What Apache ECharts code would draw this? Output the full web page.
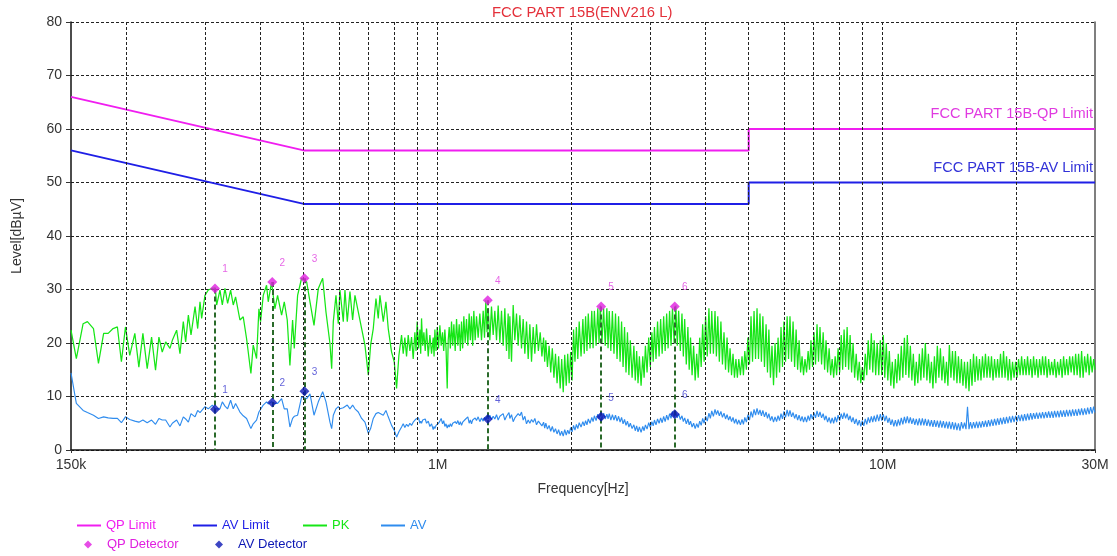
<!DOCTYPE html>
<html><head><meta charset="utf-8">
<script src="https://cdn.jsdelivr.net/npm/echarts@6/dist/echarts.min.js"></script>
<style>html,body{margin:0;padding:0;background:#fff}#c{width:1117px;height:556px}</style>
</head><body><div id="c"></div>
<script>
// ---- data (frequencies in kHz, levels in dBµV) ----
const titleText = 'FCC PART 15B(ENV216 L)';
const qpLimitKHz = [150, 500, 5000, 5000, 30000];
const qpLimitLevel = [66, 56, 56, 60, 60];
const avLimitKHz = [150, 500, 5000, 5000, 30000];
const avLimitLevel = [56, 46, 46, 50, 50];
const qpLimitText = 'FCC PART 15B-QP Limit';
const avLimitText = 'FCC PART 15B-AV Limit';

const detFreqKHz = [316, 425, 502, 1296, 2330, 3410];
const qpDetLevel = [30.2, 31.4, 32.1, 28.0, 26.8, 26.8];
const avDetLevel = [7.6, 8.9, 11.0, 5.8, 6.2, 6.7];
const detLabels = ['1', '2', '3', '4', '5', '6'];

const gridKHz = [200, 300, 400, 500, 600, 700, 800, 900, 1000, 2000, 3000, 4000, 5000, 6000, 7000, 8000, 9000, 10000, 20000];
const tickKHz = [150, 200, 300, 400, 500, 600, 700, 800, 900, 1000, 2000, 3000, 4000, 5000, 6000, 7000, 8000, 9000, 10000, 20000, 30000];

const freqKHz = [
  // 150k - 500k
  150,154.2,159.7,163.3,168.5,172.9,177.6,181.8,186.5,190.7,
  194.7,198.8,203.3,208.7,213.1,217.6,222.5,227.6,232.3,236.4,
  240.5,244.8,250.3,253.4,259.1,263.6,268.2,271.5,275.3,279.1,
  285.0,288.9,292.4,294.9,300.0,305.2,311.6,316.5,318.7,324.2,
  328.2,332.7,337.3,342.6,347.3,351.5,359.5,365.7,372.1,380.5,
  385.1,391.8,396.6,400.0,405.6,412.6,416.2,423.4,430.8,436.8,
  446.0,452.2,459.2,465.6,472.1,476.2,484.5,494.6,
  // 500k - 820k
  507.8,516.6,527.4,539.3,551.6,561.1,572.8,577.9,582.8,590.9,
  598.0,603.2,613.7,619.0,626.5,635.2,644.1,651.9,663.2,674.8,
  686.5,698.5,706.9,716.7,726.7,735.4,741.8,754.7,765.2,774.4,
  787.9,798.8,808.5,818.3,
  // 830k - 1.7M
  829.7,836.8,843.9,851.3,858.7,866.1,873.6,881.2,888.8,894.2,
  899.6,905.8,912.1,916.0,920.0,925.6,931.2,937.7,944.2,952.4,
  960.6,968.9,977.3,981.5,985.8,991.7,997.7,1004.6,1011.5,1018.5,
  1025.6,1031.8,1038.0,1044.3,1050.7,1056.1,1061.6,1068.0,1074.4,1081.0,
  1087.5,1095.0,1102.6,1110.2,1117.9,1124.6,1131.4,1138.2,1145.1,1153.0,
  1160.9,1169.0,1177.1,1184.2,1191.4,1198.6,1205.8,1214.2,1222.6,1233.2,
  1243.9,1254.7,1265.6,1274.4,1283.2,1291.0,1298.7,1310.0,1321.3,1332.8,
  1344.3,1356.0,1367.7,1379.6,1391.5,1403.6,1415.7,1428.0,1440.4,1446.6,
  1452.8,1465.4,1478.1,1490.9,1503.7,1516.8,1529.9,1543.2,1556.6,1570.1,
  1583.7,1597.5,1611.3,1625.3,1639.3,1653.5,1667.8,1684.0,
  // 1.7M - 30M
  1700,1715,1730,1740,1750,1765,1780,1795,1810,1825,1840,1855,1870,1885,1900,1915,1930,1945,1960,1975,
  1990,2005,2020,2035,2050,2065,2080,2100,2120,2135,2150,2165,2180,2200,2220,2235,2250,2270,2290,2305,
  2320,2340,2360,2380,2400,2415,2430,2450,2470,2490,2510,2530,2550,2570,2590,2610,2630,2650,2670,2690,
  2710,2735,2760,2780,2800,2820,2840,2865,2890,2910,2930,2955,2980,3005,3030,3050,3070,3095,3120,3145,
  3170,3195,3220,3245,3270,3295,3320,3345,3370,3400,3430,3455,3480,3510,3540,3565,3590,3620,3650,3675,
  3700,3730,3760,3790,3820,3850,3880,3910,3940,3970,4000,4035,4070,4100,4130,4165,4200,4230,4260,4295,
  4330,4365,4400,4435,4470,4505,4540,4575,4610,4645,4680,4715,4750,4790,4830,4865,4900,4940,4980,5020,
  5060,5100,5140,5180,5220,5260,5300,5340,5380,5425,5470,5510,5550,5595,5640,5685,5730,5775,5820,5865,
  5910,5955,6000,6050,6100,6145,6190,6240,6290,6340,6390,6440,6490,6540,6590,6640,6690,6745,6800,6850,
  6900,6955,7010,7065,7120,7175,7230,7290,7350,7405,7460,7520,7580,7640,7700,7760,7820,7880,7940,8005,
  8070,8130,8190,8255,8320,8385,8450,8515,8580,8650,8720,8790,8860,8930,9000,9070,9140,9210,9280,9355,
  9430,9500,9570,9645,9720,9800,9880,9955,10030,10110,10190,10270,10350,10430,10510,10595,10680,10760,10840,10925,
  11010,11100,11190,11275,11360,11450,11540,11630,11720,11810,11900,11995,12090,12185,12280,12375,12470,12570,12670,12770,
  12870,12970,13070,13170,13270,13375,13480,13585,13690,13800,13910,14015,14120,14235,14350,14460,14570,14685,14800,14915,
  15030,15150,15270,15390,15510,15630,15750,15875,16000,16125,16250,16375,16500,16630,16760,16890,17020,17155,17290,17425,
  17560,17700,17840,17980,18120,18260,18400,18545,18690,18835,18980,19130,19280,19430,19580,19735,19890,20045,20200,20360,
  20520,20680,20840,21000,21160,21330,21500,21665,21830,22000,22170,22345,22520,22695,22870,23050,23230,23415,23600,23785,
  23970,24155,24340,24530,24720,24915,25110,25305,25500,25700,25900,26105,26310,26515,26720,26930,27140,27350,27560,27775,
  27990,28210,28430,28655,28880,29105,29330,29560,29790,30000
];

const pkLevel = [
  // 150k - 500k
  22.4,17.1,23.6,24.0,22.7,16.2,21.8,21.8,22.7,23.0,
  16.5,23.0,17.7,21.8,15.5,21.8,15.2,21.1,14.9,21.1,
  18.3,20.2,19.0,20.5,22.4,18.0,24.0,20.2,25.2,21.5,
  26.8,22.7,27.7,24.6,28.9,29.9,30.2,30.3,27.1,29.9,
  27.1,30.2,27.4,29.9,27.1,28.6,24.3,24.9,20.8,14.3,
  19.6,17.1,26.4,24.0,28.9,30.8,27.7,31.4,26.4,28.9,
  25.2,27.7,24.3,15.8,24.3,19.0,28.9,32.1,
  // 500k - 820k
  31.4,27.7,23.3,30.2,32.1,25.8,19.9,15.2,24.0,28.9,
  23.6,29.9,24.0,29.9,24.0,29.6,24.3,28.9,25.8,22.7,
  19.6,14.0,19.6,22.7,28.3,24.6,28.9,24.0,27.7,22.7,
  18.3,16.5,11.5,17.7,
  // 830k - 1.7M
  21.5,18.0,21.0,17.5,21.5,18.5,21.1,17.0,22.0,18.5,
  24.0,19.0,22.5,18.0,24.6,19.5,22.0,18.5,22.7,17.5,
  21.5,18.0,21.0,17.5,22.5,18.5,23.0,19.0,23.3,19.5,
  22.0,18.5,22.5,19.0,11.5,20.5,23.0,19.0,24.0,19.5,
  23.5,18.5,24.5,19.5,23.5,18.5,24.0,19.0,25.0,20.0,
  24.5,19.5,25.5,20.5,25.0,19.5,26.0,20.5,25.0,21.0,
  25.5,20.5,26.0,21.0,28.0,22.0,26.5,20.5,26.8,21.5,
  26.0,20.5,27.0,20.0,26.0,19.5,26.5,18.5,25.5,17.0,
  25.0,16.5,27.1,20.5,25.5,19.5,25.2,19.0,24.5,18.0,
  24.0,17.0,23.5,16.5,23.0,18.0,23.5,18.5,
  // 1.7M - 30M
  22.0,17.5,21.0,16.5,20.5,15.5,19.5,14.5,19.0,13.5,18.0,12.5,17.5,11.5,17.0,10.8,17.8,12.0,18.0,12.5,
  18.3,13.0,22.5,16.5,23.0,17.0,24.0,17.5,24.5,18.0,25.0,18.5,25.5,19.0,26.0,19.0,26.0,19.5,26.5,20.0,
  27.0,20.0,26.5,19.5,26.5,19.0,26.0,18.5,26.0,18.0,25.5,17.0,25.0,16.5,24.0,15.5,23.0,14.5,22.0,14.0,
  20.5,13.5,19.5,13.0,18.5,12.5,17.5,12.0,17.5,13.5,19.5,14.5,21.0,15.5,22.0,16.5,23.0,17.0,24.0,17.5,
  24.5,18.0,25.0,18.5,25.5,19.0,26.0,19.5,26.5,20.0,27.0,19.5,26.0,18.5,25.5,17.5,24.5,16.0,23.0,15.0,
  21.0,14.0,19.5,13.0,18.0,13.5,21.0,15.5,23.5,16.5,25.0,17.5,26.5,18.0,26.0,18.0,26.0,17.5,25.0,16.5,
  24.0,16.0,22.0,15.0,21.0,14.5,19.0,14.0,18.0,13.5,17.0,13.5,17.0,14.0,17.5,14.0,18.5,15.0,21.0,16.0,
  25.0,16.5,26.0,17.0,26.5,17.0,25.5,16.5,25.0,15.5,23.5,14.5,22.5,13.5,19.5,12.1,20.0,13.5,21.0,14.5,
  23.0,15.5,24.0,16.5,25.0,17.0,25.0,16.5,24.0,15.5,22.5,15.0,20.5,14.5,17.5,14.0,17.0,14.5,18.5,15.0,
  20.5,15.5,22.0,16.0,23.5,16.5,23.0,16.0,22.0,15.0,20.5,14.5,19.0,14.0,17.0,13.5,17.5,14.0,19.0,14.5,
  21.5,15.0,22.5,15.5,23.0,15.0,21.5,14.5,20.0,13.5,18.0,13.0,16.5,12.5,15.5,13.0,18.0,14.0,20.5,15.0,
  21.8,14.5,20.5,14.0,20.0,14.0,20.5,14.0,21.5,13.5,20.0,13.0,18.5,12.0,16.5,11.5,17.0,12.5,18.0,13.0,
  19.5,13.5,21.0,14.0,21.5,13.5,19.5,13.0,18.0,12.0,16.5,12.5,18.0,13.0,19.0,13.5,20.0,13.0,18.0,12.5,
  16.5,11.5,17.5,12.5,19.5,13.5,19.0,13.0,17.5,12.5,16.5,12.0,19.6,13.5,18.5,13.0,18.5,12.5,17.5,12.5,
  17.0,12.0,16.5,11.5,16.5,11.0,17.0,12.0,18.0,12.7,17.5,13.0,17.0,13.0,17.5,13.5,18.0,13.5,17.5,13.5,
  17.5,13.0,17.0,13.5,17.0,13.5,18.0,13.5,18.5,13.5,17.5,13.0,17.0,13.0,16.5,13.5,16.5,13.5,17.0,14.0,
  17.5,14.0,17.0,14.0,17.5,14.0,17.0,13.5,17.5,14.0,17.0,13.5,17.0,14.0,17.5,14.0,17.5,13.5,17.0,14.0,
  16.5,14.0,17.0,13.5,16.5,14.0,17.0,13.5,17.5,14.0,17.0,14.0,17.5,14.5,17.5,14.0,18.0,14.0,18.0,13.5,
  18.5,13.5,17.5,14.5,18.0,14.0,17.5,14.5,17.0,15.0
];

const avLevel = [
  // 150k - 500k
  14.4,8.7,7.4,7.0,6.5,5.9,6.2,6.0,5.9,5.9,
  5.1,6.2,5.7,5.4,5.2,5.6,5.1,5.6,4.8,5.9,
  5.6,5.6,4.3,5.0,5.6,4.5,6.2,5.8,5.2,6.8,
  6.2,7.4,7.0,7.1,8.1,7.7,8.4,7.7,7.8,7.7,
  9.0,8.2,7.7,9.3,7.7,8.7,7.1,6.4,5.9,4.0,
  4.9,5.6,7.1,6.8,8.4,9.0,8.6,9.0,8.7,8.7,
  9.6,7.7,7.7,4.3,5.9,6.3,6.5,9.9,
  // 500k - 820k
  9.6,10.5,6.5,9.0,10.9,9.0,5.2,4.0,6.5,7.7,
  8.1,7.7,7.9,8.2,8.4,7.7,8.4,7.7,7.1,5.9,
  5.2,3.1,4.0,5.9,6.8,7.0,7.1,6.5,7.4,6.2,
  4.6,3.7,2.4,3.4,
  // 830k - 1.7M
  4.3,4.9,4.2,4.8,4.4,5.0,4.6,5.2,5.4,5.8,
  5.5,6.0,5.0,5.4,5.0,5.6,5.3,5.8,5.0,5.4,
  4.4,4.9,3.8,4.4,4.0,4.6,4.3,5.0,5.4,5.9,
  4.9,5.5,4.4,4.9,4.1,4.7,4.3,4.9,4.4,5.0,
  4.7,5.3,4.9,5.5,4.7,5.3,4.6,5.2,5.0,5.7,
  5.5,6.2,5.0,5.6,4.9,5.6,5.3,6.0,5.5,6.2,
  5.3,6.0,5.4,6.1,5.6,6.3,5.8,6.5,5.7,6.3,
  5.8,6.6,5.6,6.3,6.0,6.8,5.6,6.3,6.4,7.0,
  5.9,6.6,5.3,6.0,6.1,6.8,6.4,7.1,5.6,6.3,
  4.9,5.6,5.0,5.7,5.2,5.9,4.7,5.4,
  // 1.7M - 30M
  5.6,4.5,5.2,4.1,5.0,3.9,4.6,3.5,4.4,3.3,4.0,3.0,3.8,2.7,3.5,2.6,3.8,2.8,3.7,3.0,
  4.2,3.4,4.6,3.7,4.8,4.0,5.1,4.3,5.3,4.5,5.5,4.7,5.8,5.0,6.1,5.3,6.4,5.5,6.7,5.8,
  6.8,5.7,6.9,5.8,6.7,5.8,6.8,5.6,6.6,5.6,6.5,5.4,6.3,5.2,6.1,4.9,5.7,4.6,5.4,4.3,
  5.0,4.0,4.7,3.6,4.5,3.4,4.3,3.3,4.4,3.6,4.7,3.9,5.1,4.2,5.3,4.5,5.6,4.7,5.8,5.0,
  6.0,5.1,6.3,5.3,6.5,5.6,6.8,5.9,7.2,6.1,7.1,6.0,6.8,5.7,6.4,5.3,6.0,4.9,5.8,4.7,
  5.4,4.3,5.0,4.0,4.9,4.2,5.4,4.6,5.9,5.0,6.3,5.4,6.9,5.9,7.3,6.3,7.6,6.6,7.4,6.4,
  7.2,6.1,6.9,5.8,6.6,5.6,6.3,5.3,6.1,5.0,5.8,4.8,5.6,4.7,5.7,4.8,6.1,5.2,6.6,5.6,
  7.2,6.1,7.6,6.5,7.8,6.6,7.5,6.4,7.4,6.2,7.1,5.9,6.8,5.5,6.3,5.2,6.2,5.3,6.4,5.5,
  6.8,5.8,7.2,6.1,7.5,6.3,7.4,6.2,7.0,5.9,6.7,5.6,6.5,5.4,6.3,5.2,6.2,5.2,6.4,5.5,
  6.7,5.8,7.0,6.0,7.3,6.2,7.1,6.0,6.8,5.6,6.4,5.2,6.1,5.0,6.0,5.0,6.2,5.2,6.5,5.5,
  6.8,5.8,7.0,5.9,6.8,5.6,6.4,5.2,6.1,4.9,5.8,4.6,5.6,4.4,5.5,4.5,5.8,4.8,6.1,5.1,
  6.3,5.2,6.4,5.3,6.6,5.4,6.7,5.5,6.7,5.4,6.4,5.1,6.0,4.7,5.7,4.4,5.6,4.4,5.7,4.6,
  6.0,4.8,6.2,5.0,6.3,5.0,6.1,4.9,5.9,4.7,5.8,4.6,5.9,4.6,5.9,4.6,5.8,4.5,5.7,4.4,
  5.6,4.3,5.6,4.3,5.5,4.2,5.5,4.2,5.4,4.1,5.3,4.0,5.3,3.9,5.2,3.8,5.1,3.7,5.0,3.6,
  5.2,4.0,5.1,3.9,8.1,3.9,5.2,4.0,5.2,4.1,5.3,4.1,5.3,4.2,5.4,4.3,5.5,4.3,5.6,4.4,
  5.7,4.5,5.8,4.6,5.9,4.7,6.0,4.8,6.1,4.9,6.2,5.0,6.3,5.1,6.4,5.2,6.4,5.3,6.5,5.4,
  6.6,5.4,6.7,5.5,6.8,5.6,6.9,5.7,6.9,5.8,7.0,5.8,7.0,5.9,7.1,5.9,7.1,6.0,7.2,6.0,
  7.2,6.0,7.3,6.1,7.3,6.1,7.4,6.2,7.4,6.2,7.5,6.3,7.5,6.3,7.6,6.4,7.6,6.4,7.7,6.5,
  7.8,6.5,7.8,6.6,7.9,6.7,8.0,6.8,8.1,7.0
];

// ---- styles ----
const FONT = 'Liberation Sans, Arial, sans-serif';
const C_QPL = '#f01ef0', C_AVL = '#1f1fe6', C_PK = '#16e616', C_AV = '#2f8cee';
const C_QPD = '#e01fe0', C_AVD = '#0b16b4', C_DASH = '#2a6a2a';

const n = Math.min(freqKHz.length, pkLevel.length, avLevel.length);
const pkData = [], avData = [];
for (let i = 0; i < n; i++) { pkData.push([freqKHz[i] * 1000, pkLevel[i]]); avData.push([freqKHz[i] * 1000, avLevel[i]]); }
const qpLimData = qpLimitKHz.map((f, i) => [f * 1000, qpLimitLevel[i]]);
const avLimData = avLimitKHz.map((f, i) => [f * 1000, avLimitLevel[i]]);
const qpDetData = detFreqKHz.map((f, i) => ({ value: [f * 1000, qpDetLevel[i]], label: { formatter: detLabels[i] } }));
const avDetData = detFreqKHz.map((f, i) => ({ value: [f * 1000, avDetLevel[i]], label: { formatter: detLabels[i] } }));

function fmtFreq(v) {
  const r = Math.round(v / 1000) * 1000;
  return r >= 1e6 ? (r / 1e6) + 'M' : (r / 1e3) + 'k';
}

function legendItem(name, left, top, color, icon, w, h, pad) {
  return {
    left: left, top: top, padding: 0, itemGap: 0,
    icon: icon, itemWidth: w, itemHeight: h,
    textStyle: { fontFamily: FONT, fontSize: 13, color: color, padding: [0, 0, 0, pad] },
    data: [{ name: name, textStyle: { color: color } }]
  };
}

const chart = echarts.init(document.getElementById('c'), null, { renderer: 'canvas' });
chart.setOption({
  animation: false,
  backgroundColor: '#fff',
  title: {
    text: titleText, left: 492, top: 5, padding: 0,
    textStyle: { fontFamily: FONT, fontSize: 14.8, fontWeight: 'normal', color: '#e4303a' }
  },
  grid: { left: 71, right: 22, top: 22, bottom: 106, containLabel: false },
  legend: [
    legendItem('QP Limit', 77, 519, C_QPL, 'rect', 24, 2, 0),
    legendItem('AV Limit', 193, 519, C_AVL, 'rect', 24, 2, 0),
    legendItem('PK', 303, 519, C_PK, 'rect', 24, 2, 0),
    legendItem('AV', 381, 519, C_AV, 'rect', 24, 2, 0),
    legendItem('QP Detector', 84, 538, C_QPD, 'diamond', 8, 8, 10),
    legendItem('AV Detector', 215, 538, C_AVD, 'diamond', 8, 8, 10)
  ],
  xAxis: {
    type: 'log', logBase: 10, min: 150000, max: 30000000,
    name: 'Frequency[Hz]', nameLocation: 'middle', nameGap: 32,
    nameTextStyle: { fontFamily: FONT, fontSize: 14, color: '#333' },
    axisLine: { show: true, onZero: false, lineStyle: { color: '#111', width: 1.5 } },
    axisTick: { show: true, length: 3, lineStyle: { color: '#333' }, customValues: tickKHz.map(f => f * 1000) },
    minorTick: { show: false },
    axisLabel: { fontFamily: FONT, fontSize: 14, color: '#333', margin: 8, formatter: fmtFreq, showMinLabel: true, showMaxLabel: true },
    splitLine: { show: false }
  },
  yAxis: [{
    type: 'value', min: 0, max: 80, interval: 10,
    name: 'Level[dBµV]', nameLocation: 'middle', nameGap: 47,
    nameTextStyle: { fontFamily: FONT, fontSize: 14, color: '#333' },
    axisLine: { show: true, lineStyle: { color: '#111', width: 1.5 } },
    axisTick: { show: true, length: 5, lineStyle: { color: '#333' } },
    axisLabel: { fontFamily: FONT, fontSize: 14, color: '#333', margin: 9 },
    splitLine: { show: true, lineStyle: { color: '#222', type: [3, 2], width: 1 } }
  }, {
    type: 'value', min: 0, max: 80, position: 'right',
    axisLine: { show: true, lineStyle: { color: '#555', width: 1.5 } },
    axisTick: { show: false }, axisLabel: { show: false }, splitLine: { show: false }
  }],
  series: [
    {
      name: 'grid', type: 'line', data: [], z: 1, silent: true,
      markLine: {
        silent: true, symbol: ['none', 'none'], animation: false,
        label: { show: false },
        lineStyle: { color: '#222', type: [3, 2], width: 1 },
        data: gridKHz.map(f => ({ xAxis: f * 1000 }))
      }
    },
    {
      name: 'PK', type: 'line', data: pkData, showSymbol: false, symbol: 'none', z: 3,
      lineStyle: { color: C_PK, width: 1.25 }, itemStyle: { color: C_PK }
    },
    {
      name: 'AV', type: 'line', data: avData, showSymbol: false, symbol: 'none', z: 3,
      lineStyle: { color: C_AV, width: 1.15 }, itemStyle: { color: C_AV }
    },
    {
      name: 'QP Limit', type: 'line', data: qpLimData, showSymbol: false, symbol: 'none', z: 4,
      lineStyle: { color: C_QPL, width: 2 }, itemStyle: { color: C_QPL },
      markPoint: {
        silent: true, symbol: 'rect', symbolSize: 0, animation: false,
        data: [{
          coord: [qpLimitKHz[qpLimitKHz.length - 1] * 1000, qpLimitLevel[qpLimitLevel.length - 1]],
          label: { show: true, position: 'left', distance: 2, offset: [0, -15], formatter: qpLimitText,
            fontFamily: FONT, fontSize: 14.6, color: '#e03ae0' }
        }]
      }
    },
    {
      name: 'AV Limit', type: 'line', data: avLimData, showSymbol: false, symbol: 'none', z: 4,
      lineStyle: { color: C_AVL, width: 2 }, itemStyle: { color: C_AVL },
      markPoint: {
        silent: true, symbol: 'rect', symbolSize: 0, animation: false,
        data: [{
          coord: [avLimitKHz[avLimitKHz.length - 1] * 1000, avLimitLevel[avLimitLevel.length - 1]],
          label: { show: true, position: 'left', distance: 2, offset: [0, -15], formatter: avLimitText,
            fontFamily: FONT, fontSize: 14.6, color: '#3232d8' }
        }]
      }
    },
    {
      name: 'QP Detector', type: 'scatter', data: qpDetData, symbol: 'diamond', symbolSize: 10, z: 6,
      itemStyle: { color: C_QPD },
      label: { show: true, position: 'top', distance: 5, offset: [10, -4], fontFamily: FONT, fontSize: 10, color: '#e040e0' },
      markLine: {
        silent: true, symbol: ['none', 'none'], animation: false, z: 5,
        label: { show: false },
        lineStyle: { color: C_DASH, type: [5, 3], width: 2 },
        data: detFreqKHz.map((f, i) => [{ coord: [f * 1000, qpDetLevel[i]] }, { coord: [f * 1000, 0] }])
      }
    },
    {
      name: 'AV Detector', type: 'scatter', data: avDetData, symbol: 'diamond', symbolSize: 10, z: 7,
      itemStyle: { color: C_AVD },
      label: { show: true, position: 'top', distance: 5, offset: [10, -4], fontFamily: FONT, fontSize: 10, color: '#3a3ad0' }
    }
  ]
});
</script></body></html>
